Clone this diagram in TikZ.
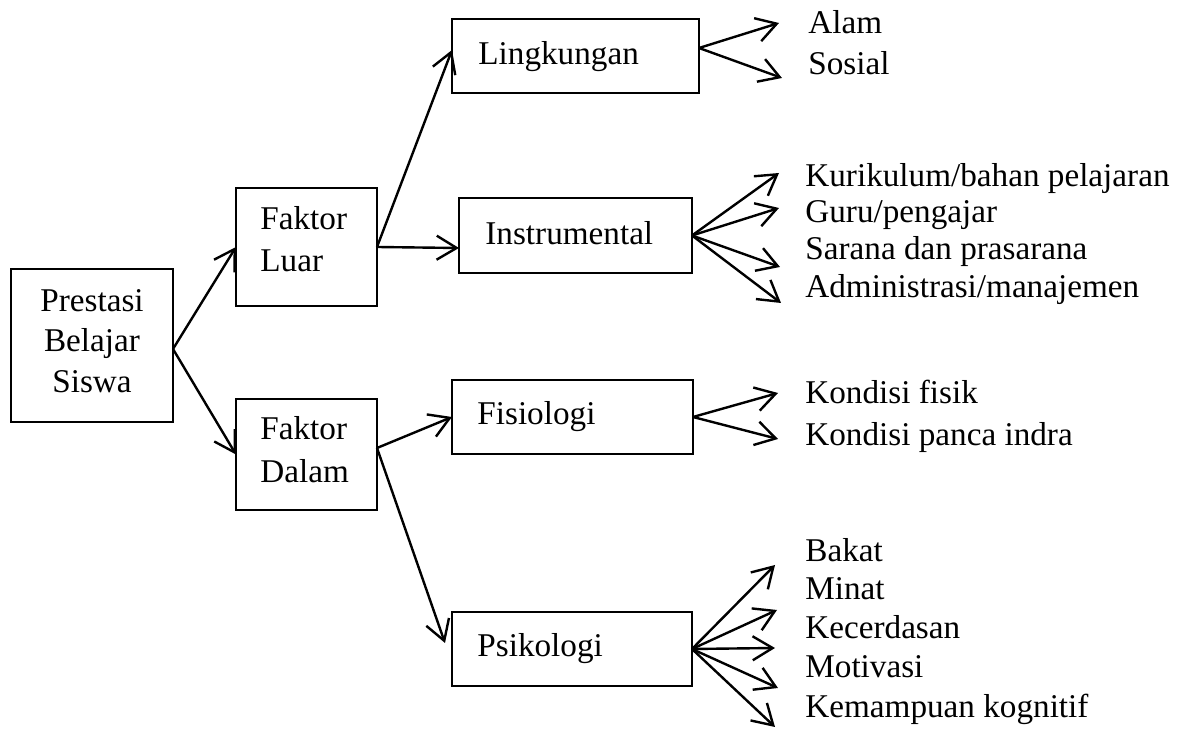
\documentclass[tikz,border=0pt]{standalone}
\usepackage{fontspec}
\setmainfont{Liberation Serif}
\usetikzlibrary{arrows.meta}
\begin{document}
\begin{tikzpicture}[x=0.5pt,y=-0.5pt,
  box/.style={draw,line width=0.9pt,inner sep=0pt,outer sep=0pt},
  txt/.style={inner sep=0pt,anchor=base west,font=\fontsize{16.6}{19}\selectfont},
  ctxt/.style={txt,anchor=base},
  arr/.style={line width=1.2pt,-{Straight Barb[length=10pt,width=12pt,line width=1.2pt]}}]
\useasboundingbox (0,0) rectangle (1191,731);
% boxes
\node[box,minimum width=81pt,minimum height=76.5pt] (pres) at (92,345.5) {};
\node[box,minimum width=70.5pt,minimum height=59pt] (fl) at (306.5,247) {};
\node[box,minimum width=70.5pt,minimum height=55.5pt] (fd) at (306.5,454.5) {};
\node[box,minimum width=123.5pt,minimum height=37pt] (ling) at (575.5,56) {};
\node[box,minimum width=116.5pt,minimum height=37.5pt] (inst) at (575.5,235.5) {};
\node[box,minimum width=120.5pt,minimum height=37pt] (fis) at (572.5,417) {};
\node[box,minimum width=120pt,minimum height=37pt] (psi) at (572,649) {};
% box texts
\node[ctxt] (t1) at (92,312) {Prestasi};
\node[ctxt] (t2) at (92,352) {Belajar};
\node[ctxt] (t3) at (92,393) {Siswa};
\node[txt] (t4) at (260,230) {Faktor};
\node[txt] (t5) at (260,272) {Luar};
\node[txt] (t6) at (260,440) {Faktor};
\node[txt] (t7) at (260,483) {Dalam};
\node[txt] (t8) at (478,65) {Lingkungan};
\node[txt] (t9) at (485,245) {Instrumental};
\node[txt] (t10) at (477,425) {Fisiologi};
\node[txt] (t11) at (477,657) {Psikologi};
% list texts
\node[txt] (a1) at (808,34) {Alam};
\node[txt] (a2) at (808,75) {Sosial};
\node[txt] (b1) at (805,187) {Kurikulum/bahan pelajaran};
\node[txt] (b2) at (805,223) {Guru/pengajar};
\node[txt] (b3) at (805,260) {Sarana dan prasarana};
\node[txt] (b4) at (805,298) {Administrasi/manajemen};
\node[txt] (c1) at (805,404) {Kondisi fisik};
\node[txt] (c2) at (805,446) {Kondisi panca indra};
\node[txt] (d1) at (805,562) {Bakat};
\node[txt] (d2) at (805,600) {Minat};
\node[txt] (d3) at (805,639) {Kecerdasan};
\node[txt] (d4) at (805,678) {Motivasi};
\node[txt] (d5) at (805,718) {Kemampuan kognitif};
% arrow tips
\coordinate (pa1) at (779,23);
\coordinate (pa2) at (782,78);
\coordinate (pb1) at (779,173);
\coordinate (pb2) at (779,208);
\coordinate (pb3) at (780,267);
\coordinate (pb4) at (781,303);
\coordinate (pc1) at (778,393);
\coordinate (pc2) at (778,439);
\coordinate (pd1) at (775,565);
\coordinate (pd2) at (777,610);
\coordinate (pd3) at (775,648);
\coordinate (pd4) at (778,688);
\coordinate (pd5) at (775,727);
% connectors
\draw[arr] ([yshift=-1.75pt]pres.east) -- (fl.west);
\draw[arr] ([yshift=-1.75pt]pres.east) -- (fd.west);
\draw[arr] (fl.east) -- ([yshift=3pt]ling.west);
\draw[arr] (fl.east) -- ([yshift=-6.25pt]inst.west);
\draw[arr] ([yshift=3.25pt]fd.east) -- (fis.west);
\draw[arr] ([yshift=3.25pt]fd.east) -- ([xshift=-3.5pt,yshift=3pt]psi.west);
\foreach \p in {pa1,pa2} \draw[arr] ([yshift=4pt]ling.east) -- (\p);
\foreach \p in {pb1,pb2,pb3,pb4} \draw[arr] (inst.east) -- (\p);
\foreach \p in {pc1,pc2} \draw[arr] (fis.east) -- (\p);
\foreach \p in {pd1,pd2,pd3,pd4,pd5} \draw[arr] (psi.east) -- (\p);
\end{tikzpicture}
\end{document}
